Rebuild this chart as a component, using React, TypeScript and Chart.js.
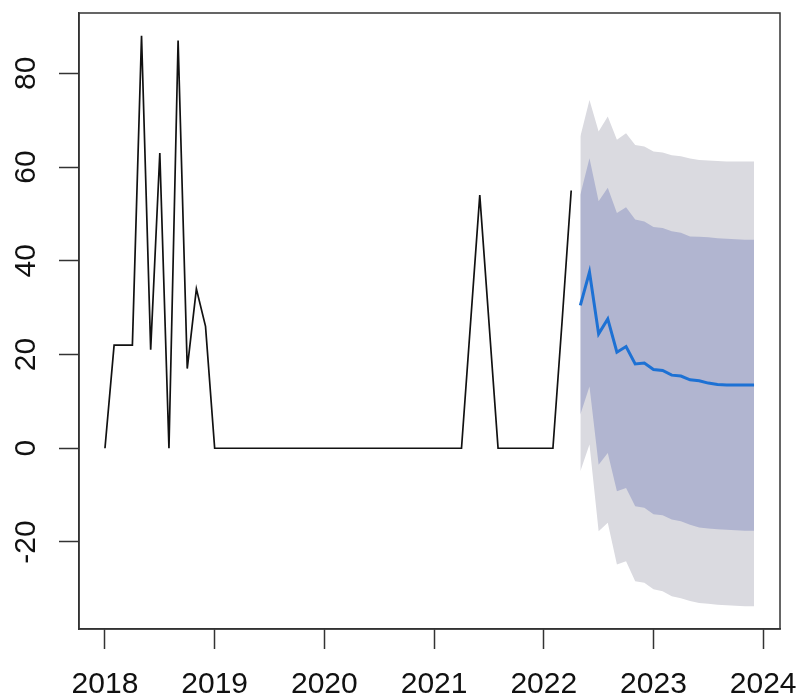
import React, { useEffect, useRef } from 'react';
import { Chart, registerables } from 'chart.js';

Chart.register(...registerables);

// Monthly observations, Jan 2018 .. Apr 2022
const START_YEAR = 2018;
const obs2018 = [0, 22, 22, 22, 88, 21, 63, 0, 87, 17, 34, 26];
const obs2019 = [0, 0, 0, 0, 0, 0, 0, 0, 0, 0, 0, 0];
const obs2020 = [0, 0, 0, 0, 0, 0, 0, 0, 0, 0, 0, 0];
const obs2021 = [0, 0, 0, 0, 27, 54, 27, 0, 0, 0, 0, 0];
const obs2022 = [0, 0, 27, 55];
const observed = [...obs2018, ...obs2019, ...obs2020, ...obs2021, ...obs2022];

// Forecast, May 2022 .. Dec 2023
const FORECAST_START = 2022 + 4 / 12;
const fcMean = [30.5, 37.6, 24.4, 27.6, 20.5, 21.7, 18.0, 18.2, 16.8, 16.6, 15.6, 15.4, 14.6, 14.4, 13.9, 13.6, 13.5, 13.5, 13.5, 13.5];
const fcHi95 = [66.5, 74.3, 67.6, 70.8, 65.8, 67.2, 64.7, 64.4, 63.3, 63.1, 62.5, 62.3, 61.8, 61.5, 61.4, 61.3, 61.2, 61.2, 61.2, 61.2];
const fcHi80 = [54.1, 61.9, 52.7, 55.6, 50.2, 51.4, 48.8, 48.4, 47.2, 47.0, 46.3, 46.0, 45.2, 45.1, 45.0, 44.8, 44.7, 44.6, 44.5, 44.5];
const fcLo80 = [7.2, 13.2, -3.5, -1.0, -9.2, -8.5, -12.4, -12.7, -14.1, -14.3, -15.2, -15.6, -16.3, -16.9, -17.1, -17.3, -17.4, -17.5, -17.6, -17.6];
const fcLo95 = [-4.9, 0.8, -17.7, -15.9, -24.8, -24.1, -28.4, -28.7, -30.1, -30.5, -31.6, -32.0, -32.6, -33.0, -33.2, -33.4, -33.5, -33.6, -33.7, -33.7];

const xTicks = [2018, 2019, 2020, 2021, 2022, 2023, 2024];
const yTicks = [-20, 0, 20, 40, 60, 80];

const obsTimes = observed.map((_, i) => START_YEAR + i / 12);
const fcTimes = fcMean.map((_, i) => FORECAST_START + i / 12);
const pts = (ts: number[], vs: number[]) => vs.map((v, i) => ({ x: ts[i], y: v }));

const AXIS_COLOR = '#333333';
const TEXT_COLOR = '#111111';
const FONT = { family: "'Liberation Sans', Arial, sans-serif", size: 30 };

const boxPlugin = {
  id: 'rbox',
  afterDatasetsDraw(chart: any) {
    const { ctx, chartArea: a } = chart;
    ctx.save();
    ctx.strokeStyle = AXIS_COLOR;
    ctx.lineWidth = 1.5;
    ctx.strokeRect(a.left, a.top, a.right - a.left, a.bottom - a.top);
    ctx.restore();
  },
};

const zeroPad = (s: any) => {
  s.paddingTop = 0;
  s.paddingBottom = 0;
  s.paddingLeft = 0;
  s.paddingRight = 0;
};

export default function App() {
  const ref = useRef<HTMLCanvasElement | null>(null);

  useEffect(() => {
    if (!ref.current) return;
    const tMin = obsTimes[0];
    const tMax = fcTimes[fcTimes.length - 1];
    const allY = [...observed, ...fcHi95, ...fcLo95];
    const yMinD = Math.min(...allY);
    const yMaxD = Math.max(...allY);
    const xPad = 0.04 * (tMax - tMin);
    const yPad = 0.04 * (yMaxD - yMinD);

    const chart = new Chart(ref.current, {
      type: 'line',
      data: {
        datasets: [
          {
            label: 'observed',
            data: pts(obsTimes, observed),
            borderColor: '#111111',
            borderWidth: 1.7,
            pointRadius: 0,
            tension: 0,
            fill: false,
            order: 1,
          },
          {
            label: 'forecast',
            data: pts(fcTimes, fcMean),
            borderColor: '#1d71d4',
            borderWidth: 3,
            pointRadius: 0,
            tension: 0,
            fill: false,
            order: 2,
          },
          {
            label: 'hi80',
            data: pts(fcTimes, fcHi80),
            borderColor: 'rgba(0,0,0,0)',
            borderWidth: 1,
            backgroundColor: '#b1b5d0',
            pointRadius: 0,
            tension: 0,
            fill: '+1',
            order: 3,
          },
          {
            label: 'lo80',
            data: pts(fcTimes, fcLo80),
            borderColor: 'rgba(0,0,0,0)',
            borderWidth: 1,
            pointRadius: 0,
            tension: 0,
            fill: false,
            order: 3,
          },
          {
            label: 'hi95',
            data: pts(fcTimes, fcHi95),
            borderColor: 'rgba(0,0,0,0)',
            borderWidth: 1,
            backgroundColor: '#dadae0',
            pointRadius: 0,
            tension: 0,
            fill: '+1',
            order: 4,
          },
          {
            label: 'lo95',
            data: pts(fcTimes, fcLo95),
            borderColor: 'rgba(0,0,0,0)',
            borderWidth: 1,
            pointRadius: 0,
            tension: 0,
            fill: false,
            order: 4,
          },
        ],
      },
      options: {
        responsive: false,
        animation: false,
        events: [],
        layout: { padding: { top: 13, right: 18, left: 0, bottom: 0 } },
        plugins: { legend: { display: false }, tooltip: { enabled: false } },
        scales: {
          x: {
            type: 'linear',
            min: tMin - xPad,
            max: tMax + xPad,
            afterBuildTicks: (s: any) => {
              s.ticks = xTicks.map((v) => ({ value: v }));
            },
            afterFit: (s: any) => {
              s.height = 71;
              zeroPad(s);
            },
            grid: {
              display: true,
              drawOnChartArea: false,
              drawTicks: true,
              tickLength: 20,
              tickColor: AXIS_COLOR,
              tickWidth: 1.5,
            },
            border: { display: true, color: AXIS_COLOR, width: 1.5 },
            ticks: {
              autoSkip: false,
              maxRotation: 0,
              minRotation: 0,
              padding: 18,
              color: TEXT_COLOR,
              font: FONT,
              callback: (v: any) => String(v),
            },
          },
          y: {
            type: 'linear',
            min: yMinD - yPad,
            max: yMaxD + yPad,
            afterBuildTicks: (s: any) => {
              s.ticks = yTicks.map((v) => ({ value: v }));
            },
            afterFit: (s: any) => {
              s.width = 79;
              zeroPad(s);
            },
            grid: {
              display: true,
              drawOnChartArea: false,
              drawTicks: true,
              tickLength: 20,
              tickColor: AXIS_COLOR,
              tickWidth: 1.5,
            },
            border: { display: true, color: AXIS_COLOR, width: 1.5 },
            ticks: {
              autoSkip: false,
              minRotation: 90,
              maxRotation: 90,
              crossAlign: 'center',
              padding: 11,
              color: TEXT_COLOR,
              font: FONT,
              callback: (v: any) => String(v),
            },
          },
        },
      },
      plugins: [boxPlugin],
    });
    return () => chart.destroy();
  }, []);

  return (
    <div style={{ position: 'absolute', left: 0, top: 0, width: 798, height: 700, background: '#ffffff' }}>
      <canvas ref={ref} width={798} height={700} style={{ display: 'block', width: 798, height: 700 }} />
    </div>
  );
}
